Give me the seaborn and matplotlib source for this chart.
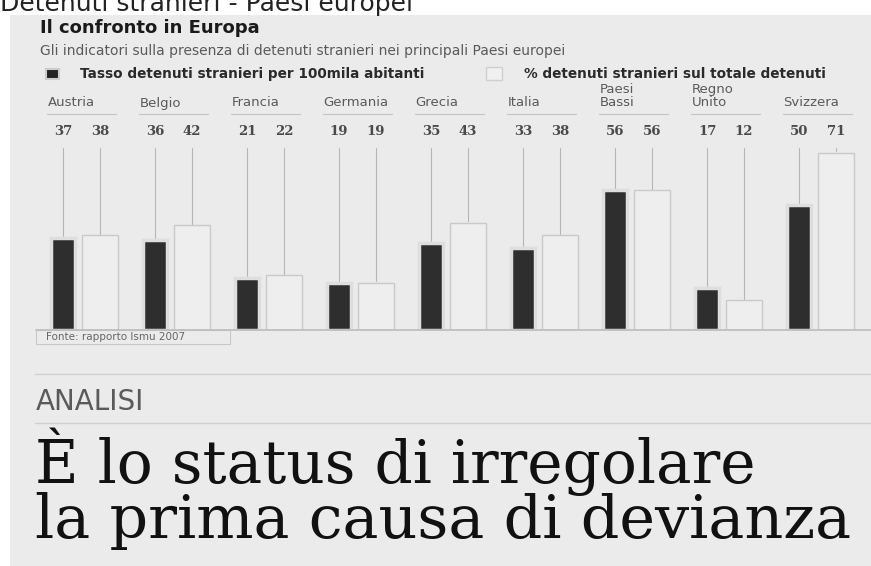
import pandas as pd
import seaborn as sns
from matplotlib import pyplot as plt
from matplotlib.patches import Rectangle
from matplotlib.lines import Line2D

# dati (Fonte: rapporto Ismu 2007)
paesi = ["Austria", "Belgio", "Francia", "Germania", "Grecia", "Italia",
         "Paesi\nBassi", "Regno\nUnito", "Svizzera"]
tasso = [37, 36, 21, 19, 35, 33, 56, 17, 50]
percentuale = [38, 42, 22, 19, 43, 38, 56, 12, 71]
serie = ["Tasso detenuti stranieri per 100mila abitanti",
         "% detenuti stranieri sul totale detenuti"]

df = pd.DataFrame({
    "paese": paesi * 2,
    "serie": [serie[0]] * len(paesi) + [serie[1]] * len(paesi),
    "valore": tasso + percentuale,
})

W, H = 871, 566


def px(x, y):
    return x / W, 1 - y / H


sns.set_theme(style="white")
plt.rcParams["font.family"] = ["DejaVu Sans"]

fig = plt.figure(figsize=(W / 100, H / 100), dpi=100)
fig.patch.set_facecolor("white")

# foglio di giornale
fig.add_artist(Rectangle((10 / W, 0), 1, 1 - 15 / H, transform=fig.transFigure,
                         facecolor="#ebebeb", edgecolor="none", zorder=0))

# titolo tagliato in alto
fig.text(*px(0, 11), "Detenuti stranieri - Paesi europei", fontsize=18,
         color="#222222", va="baseline", ha="left")

fig.text(*px(40, 33), "Il confronto in Europa", fontsize=13, fontweight="bold",
         color="#1a1a1a", va="baseline")
fig.text(*px(40, 55), "Gli indicatori sulla presenza di detenuti stranieri nei principali Paesi europei",
         fontsize=10, color="#5a5a5a", va="baseline")

# legenda
fig.add_artist(Rectangle(px(46, 79), 13 / W, 10 / H, transform=fig.transFigure,
                         facecolor="#222222", edgecolor="#cccccc", lw=1.5))
fig.text(*px(80, 78), serie[0], fontsize=9.8, fontweight="bold", color="#2a2a2a", va="baseline")
fig.add_artist(Rectangle(px(486, 80), 16 / W, 13 / H, transform=fig.transFigure,
                         facecolor="#f0f0f0", edgecolor="#cfcfcf", lw=1))
fig.text(*px(524, 78), serie[1], fontsize=9.8, fontweight="bold", color="#2a2a2a", va="baseline")

# grafico
ax = fig.add_axes([35.5 / W, (H - 330) / H, 828 / W, 250 / H])
ax.set_facecolor("none")
sns.barplot(data=df, x="paese", y="valore", hue="serie", hue_order=serie,
            palette=["#2e2e2e", "#eeeeee"], width=0.8, legend=False, ax=ax)
ax.set_xlim(-0.5, len(paesi) - 0.5)
ax.set_ylim(0, 100)
ax.set_xlabel("")
ax.set_ylabel("")
ax.set_xticks([])
ax.set_yticks([])
for s in ax.spines.values():
    s.set_visible(False)

for k, cont in enumerate(ax.containers):
    valori = tasso if k == 0 else percentuale
    for bar, v in zip(cont, valori):
        cx = bar.get_x() + bar.get_width() / 2
        if k == 0:
            bar.set_width(0.26)
            bar.set_x(cx - 0.13)
            bar.set_edgecolor("#dedede")
            bar.set_linewidth(2.5)
        else:
            bar.set_edgecolor("#c9c9c9")
            bar.set_linewidth(1)
        top = bar.get_height()
        ax.plot([cx, cx], [top + 0.6, 73], color="#b5b5b5", lw=0.8, zorder=0)
        ax.text(cx, 79.5, str(v), ha="center", va="center", fontsize=9.5,
                fontweight="bold", family="DejaVu Serif", color="#4a4a4a")

for i, nome in enumerate(paesi):
    righe = nome.split("\n")
    for j, riga in enumerate(reversed(righe)):
        ax.text(i - 0.37, 89.4 + j * 5.3, riga, ha="left", va="baseline",
                fontsize=9.5, color="#5a5a5a")
    ax.plot([i - 0.38, i + 0.38], [86.4, 86.4], color="#c4c4c4", lw=0.8)

# linea di base e fonte
fig.add_artist(Line2D([36 / W, 1], [(H - 330) / H] * 2, transform=fig.transFigure,
                      color="#bcbcbc", lw=1.2))
fig.add_artist(Rectangle(px(36, 344), 194 / W, 14 / H, transform=fig.transFigure,
                         facecolor="none", edgecolor="#c8c8c8", lw=0.8))
fig.text(*px(46, 340.5), "Fonte: rapporto Ismu 2007", fontsize=7.5, color="#666666", va="baseline")

# articolo
for yy in (374, 423):
    fig.add_artist(Line2D([35 / W, 1], [(H - yy) / H] * 2, transform=fig.transFigure,
                          color="#cfcfcf", lw=1))
fig.text(*px(36, 410), "ANALISI", fontsize=20, color="#5a5a5a", va="baseline")
fig.text(*px(35, 483), "È lo status di irregolare", fontsize=43,
         family="DejaVu Serif", color="#111111", va="baseline")
fig.text(*px(35, 538), "la prima causa di devianza", fontsize=43.5,
         family="DejaVu Serif", color="#111111", va="baseline")

fig.savefig("out.png", dpi=100)
